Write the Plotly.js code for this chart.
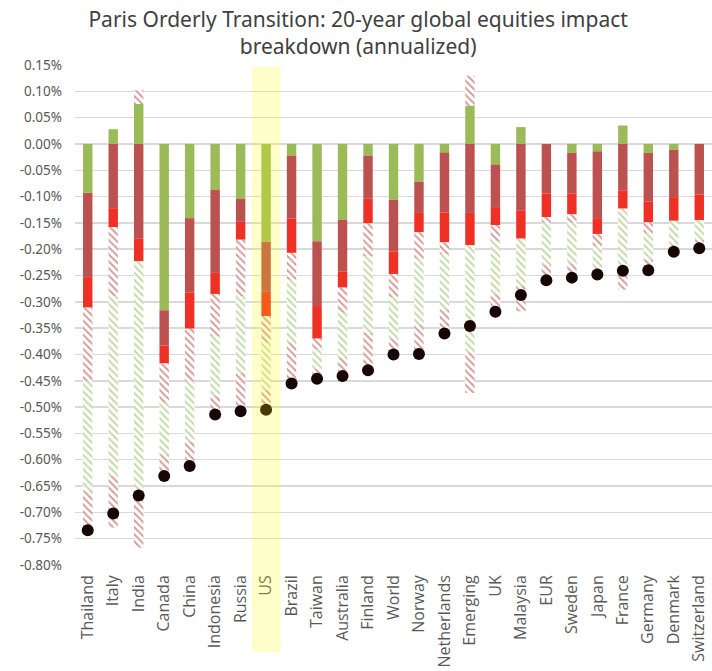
<!DOCTYPE html>
<html>
<head>
<meta charset="utf-8">
<script src="https://cdn.plot.ly/plotly-3.0.1.min.js"></script>
<style>html,body{margin:0;padding:0;background:#fff;}#chart{width:712px;height:671px;}</style>
</head>
<body>
<div id="chart"></div>
<script>
const countries = ["Thailand","Italy","India","Canada","China","Indonesia","Russia","US","Brazil","Taiwan","Australia","Finland","World","Norway","Netherlands","Emerging","UK","Malaysia","EUR","Sweden","Japan","France","Germany","Denmark","Switzerland"];

// stacked components (in % per year)
const greenSolid = [-0.093,0.028,0.076,-0.316,-0.141,-0.087,-0.104,-0.186,-0.022,-0.185,-0.144,-0.022,-0.106,-0.072,-0.016,0.073,-0.039,0.032,0,-0.017,-0.014,0.035,-0.017,-0.011,0];
const darkRedSolid = [-0.160,-0.122,-0.180,-0.067,-0.141,-0.158,-0.044,-0.095,-0.120,-0.123,-0.098,-0.082,-0.098,-0.059,-0.114,-0.131,-0.081,-0.126,-0.094,-0.077,-0.127,-0.088,-0.092,-0.090,-0.096];
const redSolid = [-0.058,-0.036,-0.043,-0.034,-0.069,-0.040,-0.034,-0.046,-0.065,-0.062,-0.031,-0.047,-0.043,-0.037,-0.057,-0.061,-0.034,-0.054,-0.045,-0.040,-0.030,-0.035,-0.040,-0.045,-0.049];
const redHatchA = [-0.140,-0.132,0.026,-0.075,-0.100,-0.080,-0.107,-0.051,-0.051,-0.021,-0.048,-0.062,-0.044,-0.050,-0.023,0.057,-0.031,0,-0.011,-0.016,-0.023,0,-0.020,0,0];
const greenHatch = [-0.209,-0.341,-0.433,-0.098,-0.114,-0.114,-0.146,-0.089,-0.120,-0.037,-0.085,-0.146,-0.079,-0.125,-0.105,-0.205,-0.101,-0.090,-0.079,-0.077,-0.041,-0.108,-0.051,-0.045,-0.037];
const redHatchB = [-0.072,-0.098,-0.111,-0.040,-0.044,-0.032,-0.063,-0.028,-0.074,-0.010,-0.026,-0.062,-0.024,-0.048,-0.036,-0.076,-0.025,-0.048,-0.022,-0.018,-0.010,-0.046,-0.012,-0.006,-0.009];
// net total (dots)
const netTotal = [-0.734,-0.702,-0.668,-0.631,-0.612,-0.514,-0.508,-0.505,-0.455,-0.446,-0.441,-0.430,-0.400,-0.399,-0.360,-0.346,-0.319,-0.287,-0.259,-0.254,-0.248,-0.241,-0.240,-0.205,-0.198];

const yTickVals = [0.15,0.10,0.05,0,-0.05,-0.10,-0.15,-0.20,-0.25,-0.30,-0.35,-0.40,-0.45,-0.50,-0.55,-0.60,-0.65,-0.70,-0.75,-0.80];
const yTickText = ["0.15%","0.10%","0.05%","0.00%","-0.05%","-0.10%","-0.15%","-0.20%","-0.25%","-0.30%","-0.35%","-0.40%","-0.45%","-0.50%","-0.55%","-0.60%","-0.65%","-0.70%","-0.75%","-0.80%"];

const highlight = "US";

function solid(y, color){
  return {type:'bar', x:countries, y:y, marker:{color:color, line:{width:0}}, hoverinfo:'skip'};
}
function hatch(y, fg){
  return {type:'bar', x:countries, y:y, hoverinfo:'skip',
    marker:{color:'#ffffff', line:{width:0},
      pattern:{shape:'\\', fgcolor:fg, bgcolor:'#ffffff', size:5, solidity:0.38, fillmode:'replace'}}};
}

const traces = [
  solid(greenSolid, '#9bbb59'),
  solid(darkRedSolid, '#bc524f'),
  solid(redSolid, '#ee3124'),
  hatch(redHatchA, '#d49a98'),
  hatch(greenHatch, '#c3d9a6'),
  hatch(redHatchB, '#d49a98'),
  {type:'scatter', mode:'markers', x:countries, y:netTotal,
   marker:{color:'#170606', size:12, line:{width:0}}, hoverinfo:'skip'}
];

const hi = countries.indexOf(highlight);

const layout = {
  width:712, height:671,
  margin:{l:75, r:0, t:65, b:106},
  paper_bgcolor:'#ffffff', plot_bgcolor:'#ffffff',
  barmode:'relative', bargap:0.63,
  showlegend:false,
  title:{text:'Paris Orderly Transition: 20-year global equities impact<br>breakdown (annualized)',
    x:0.503, xref:'container', xanchor:'center', yref:'container', y:0.96, yanchor:'middle',
    font:{family:'Noto Sans, sans-serif', size:21, color:'#404040'}},
  xaxis:{type:'category', range:[-0.5, 24.5], tickangle:-90, showgrid:false, zeroline:false,
    showline:false, ticks:'', ticklabelstandoff:6,
    tickfont:{family:'Open Sans, sans-serif', size:16, color:'#595959'}},
  yaxis:{range:[-0.8, 0.15], tickvals:yTickVals, ticktext:yTickText, showgrid:true,
    gridcolor:'#d9d9d9', gridwidth:1.5, zeroline:false, showline:false, ticks:'',
    ticklabelstandoff:12,
    tickfont:{family:'Noto Sans, sans-serif', size:13.5, color:'#595959'}},
  shapes:[{type:'rect', layer:'above', xref:'x', yref:'paper',
    x0:hi-0.56, x1:hi+0.56, y0:-0.174, y1:0.996,
    fillcolor:'rgba(255,255,0,0.21)', line:{width:0}}]
};

Plotly.newPlot('chart', traces, layout, {staticPlot:true, displayModeBar:false});
</script>
</body>
</html>
